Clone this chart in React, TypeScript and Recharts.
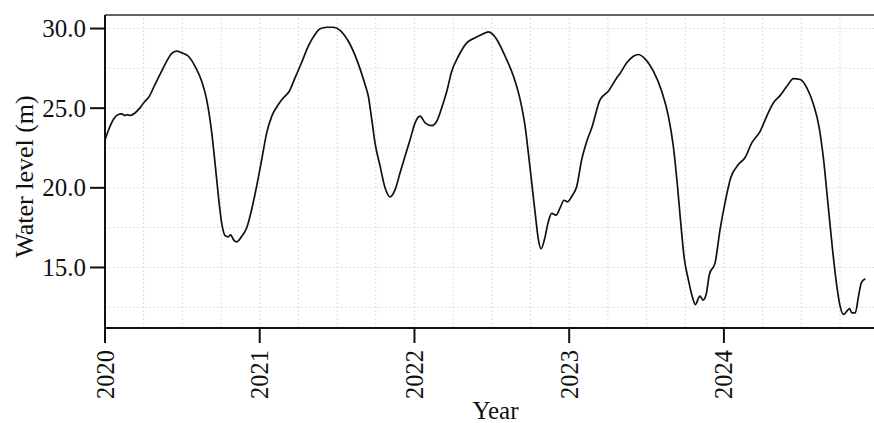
import { LineChart, Line, XAxis, YAxis, ReferenceLine, Label } from "recharts"

// decimal year of each reading
const years = [
  2020.0, 2020.02, 2020.054, 2020.086, 2020.108, 2020.13, 2020.145, 2020.16, 2020.194, 2020.226,
  2020.259, 2020.28, 2020.323, 2020.366, 2020.399, 2020.43, 2020.463, 2020.496, 2020.539, 2020.582,
  2020.625, 2020.657, 2020.69, 2020.711, 2020.733, 2020.754, 2020.776, 2020.797, 2020.812, 2020.83,
  2020.851, 2020.884, 2020.916, 2020.948, 2020.98, 2021.013, 2021.045, 2021.078, 2021.12, 2021.153,
  2021.191, 2021.228, 2021.27, 2021.314, 2021.357, 2021.39, 2021.433, 2021.476, 2021.519, 2021.573,
  2021.627, 2021.68, 2021.702, 2021.724, 2021.745, 2021.778, 2021.81, 2021.842, 2021.875, 2021.907,
  2021.939, 2021.972, 2022.004, 2022.036, 2022.069, 2022.112, 2022.144, 2022.176, 2022.209, 2022.241,
  2022.284, 2022.338, 2022.392, 2022.435, 2022.478, 2022.51, 2022.532, 2022.586, 2022.64, 2022.683,
  2022.715, 2022.736, 2022.758, 2022.78, 2022.801, 2022.818, 2022.84, 2022.866, 2022.887, 2022.915,
  2022.941, 2022.967, 2022.99, 2023.017, 2023.049, 2023.081, 2023.114, 2023.146, 2023.2, 2023.253,
  2023.307, 2023.33, 2023.372, 2023.415, 2023.447, 2023.49, 2023.544, 2023.598, 2023.641, 2023.673,
  2023.7, 2023.721, 2023.742, 2023.77, 2023.798, 2023.815, 2023.845, 2023.865, 2023.885, 2023.906,
  2023.943, 2023.975, 2024.007, 2024.044, 2024.093, 2024.137, 2024.18, 2024.234, 2024.277, 2024.32,
  2024.363, 2024.407, 2024.45, 2024.493, 2024.536, 2024.579, 2024.616, 2024.644, 2024.672, 2024.702,
  2024.73, 2024.751, 2024.773, 2024.795, 2024.812, 2024.827, 2024.849, 2024.87, 2024.888, 2024.914,
]

// water level in metres
const levels = [
  23.0, 23.55, 24.29, 24.6, 24.64, 24.54, 24.6, 24.54, 24.7, 25.02,
  25.44, 25.65, 26.48, 27.32, 27.95, 28.43, 28.58, 28.47, 28.26, 27.63,
  26.69, 25.54, 23.45, 21.57, 19.47, 17.8, 17.0, 16.92, 17.05, 16.75,
  16.61, 16.96, 17.49, 18.64, 20.1, 21.78, 23.45, 24.5, 25.23, 25.65,
  26.06, 26.9, 27.85, 28.89, 29.62, 29.98, 30.08, 30.08, 29.89, 29.2,
  28.05, 26.5, 25.75, 24.29, 22.82, 21.36, 20.0, 19.43, 19.89, 20.94,
  21.98, 23.03, 24.08, 24.5, 24.08, 23.91, 24.18, 25.02, 26.06, 27.32,
  28.26, 29.1, 29.42, 29.62, 29.79, 29.6, 29.31, 28.26, 27.0, 25.54,
  23.87, 22.2, 20.31, 18.43, 16.75, 16.17, 16.75, 17.9, 18.39, 18.28,
  18.74, 19.22, 19.12, 19.47, 20.1, 21.78, 22.93, 23.77, 25.54, 26.06,
  26.9, 27.2, 27.85, 28.26, 28.37, 28.1, 27.32, 26.06, 24.5, 22.61,
  20.1, 17.8, 15.7, 14.24, 13.09, 12.67, 13.2, 12.95, 13.3, 14.56,
  15.29, 17.38, 19.06, 20.63, 21.46, 21.9, 22.82, 23.55, 24.5, 25.34,
  25.79, 26.38, 26.86, 26.8, 26.28, 25.23, 23.77, 21.78, 19.06, 16.13,
  13.82, 12.57, 12.05, 12.26, 12.42, 12.15, 12.15, 13.2, 14.04, 14.29,
]

const yearTicks = [2020, 2021, 2022, 2023, 2024]
const levelTicks = [15, 20, 25, 30]
const levelGrid = [12.5, 15, 17.5, 20, 22.5, 25, 27.5, 30]
const yearGrid = [
  2020.25, 2020.5, 2020.75, 2021, 2021.25, 2021.5, 2021.75, 2022, 2022.25, 2022.5, 2022.75,
  2023, 2023.25, 2023.5, 2023.75, 2024, 2024.25, 2024.5, 2024.75,
]

const X_DOMAIN: [number, number] = [2020, 2024.97]
const Y_DOMAIN: [number, number] = [11.2, 30.85]

const FONT = "'Liberation Serif', 'Times New Roman', Times, serif"
const INK = "#111"
const textStyle = { fontFamily: FONT, fill: INK }

const data = years.map((year, i) => ({ year, level: levels[i] }))

function YearTick({ x, y, payload }: any) {
  return (
    <text
      x={x}
      y={y}
      transform={`rotate(-90, ${x}, ${y})`}
      textAnchor="end"
      dominantBaseline="central"
      style={{ ...textStyle, fontSize: 24.5 }}
    >
      {payload.value}
    </text>
  )
}

function LevelTick({ x, y, payload }: any) {
  return (
    <text x={x} y={y} textAnchor="end" dominantBaseline="central" style={{ ...textStyle, fontSize: 25 }}>
      {Number(payload.value).toFixed(1)}
    </text>
  )
}

export default function App() {
  return (
    <div style={{ position: "absolute", left: 0, top: 0, width: 874, height: 423, background: "#fff" }}>
      <LineChart width={874} height={423} data={data} margin={{ top: 15, right: 0, left: 0, bottom: 0 }}>
        {levelGrid.map((v) => (
          <ReferenceLine key={`h${v}`} y={v} stroke="#d2d2d2" strokeWidth={1} strokeDasharray="1.5 2.5" />
        ))}
        {yearGrid.map((v) => (
          <ReferenceLine key={`v${v}`} x={v} stroke="#d2d2d2" strokeWidth={1} strokeDasharray="1.5 2.5" />
        ))}
        <ReferenceLine y={Y_DOMAIN[1]} stroke="#333" strokeWidth={1.5} />
        <XAxis
          type="number"
          dataKey="year"
          domain={X_DOMAIN}
          ticks={yearTicks}
          allowDataOverflow
          height={95}
          tickSize={15}
          tickMargin={7}
          tick={<YearTick />}
          axisLine={{ stroke: INK, strokeWidth: 2 }}
          tickLine={{ stroke: INK, strokeWidth: 2 }}
        >
          <Label
            content={({ viewBox }: any) => (
              <text
                x={viewBox.x + viewBox.width / 2 + 6}
                y={viewBox.y + 91}
                textAnchor="middle"
                style={{ ...textStyle, fontSize: 25 }}
              >
                Year
              </text>
            )}
          />
        </XAxis>
        <YAxis
          type="number"
          domain={Y_DOMAIN}
          ticks={levelTicks}
          allowDataOverflow
          width={105}
          tickSize={15}
          tickMargin={4}
          tick={<LevelTick />}
          axisLine={{ stroke: INK, strokeWidth: 2 }}
          tickLine={{ stroke: INK, strokeWidth: 2 }}
        >
          <Label
            content={({ viewBox }: any) => {
              const cx = viewBox.x + 24
              const cy = viewBox.y + viewBox.height / 2 + 5
              return (
                <text
                  x={cx}
                  y={cy}
                  transform={`rotate(-90, ${cx}, ${cy})`}
                  textAnchor="middle"
                  dominantBaseline="central"
                  style={{ ...textStyle, fontSize: 26 }}
                >
                  Water level (m)
                </text>
              )
            }}
          />
        </YAxis>
        <Line
          type="monotone"
          dataKey="level"
          stroke={INK}
          strokeWidth={1.7}
          dot={false}
          activeDot={false}
          isAnimationActive={false}
        />
      </LineChart>
    </div>
  )
}
